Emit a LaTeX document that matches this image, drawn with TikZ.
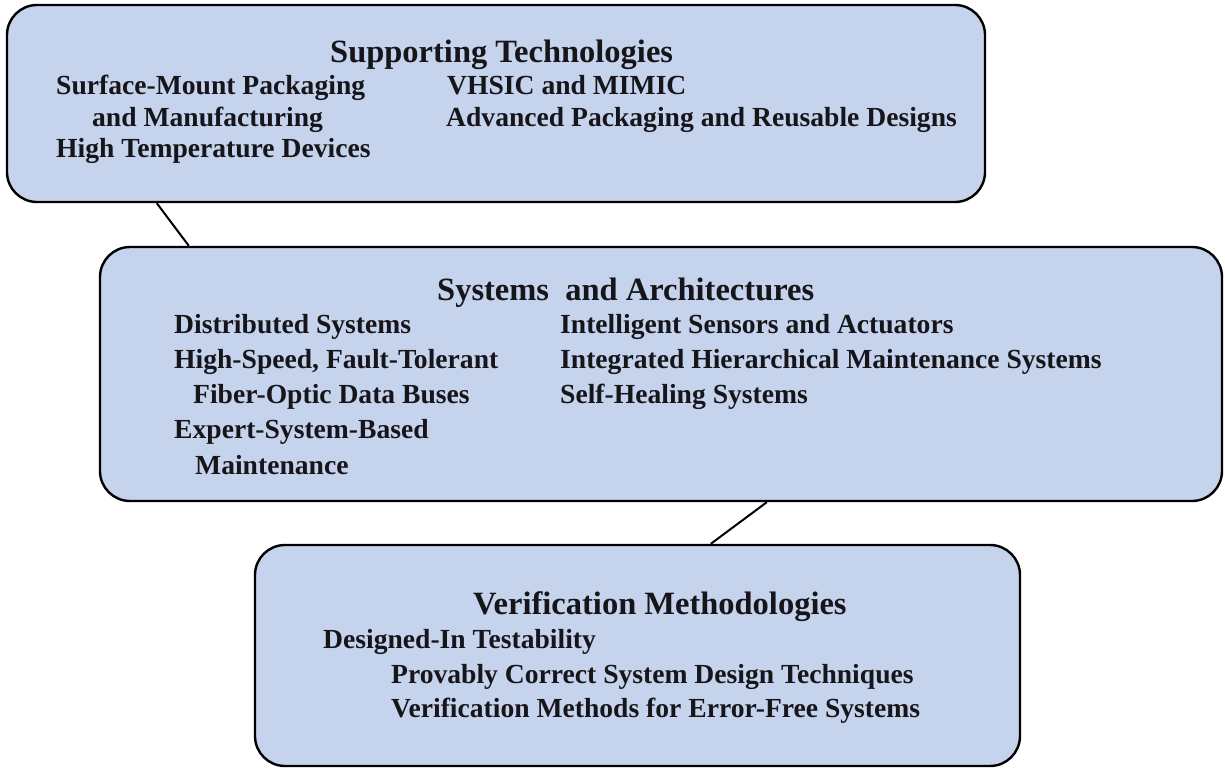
\documentclass[tikz,border=0pt]{standalone}
\usepackage{fontspec}
\setmainfont{Liberation Serif}
\usetikzlibrary{calc}
\definecolor{boxfill}{RGB}{198,211,236}
\definecolor{ink}{RGB}{22,22,26}
\begin{document}
\begin{tikzpicture}[x=1bp,y=-1bp,
  panel/.style={draw=black, line width=2.4bp, fill=boxfill, rounded corners=30bp,
    inner sep=0pt, rectangle},
  ttl/.style={anchor=base west, inner sep=0pt, text=ink,
    font=\bfseries\fontsize{32.5bp}{36bp}\selectfont},
  itm/.style={anchor=base west, inner sep=0pt, text=ink,
    font=\bfseries\fontsize{27.6bp}{32bp}\selectfont},
  link/.style={draw=black, line width=2bp}]
\useasboundingbox (0,0) rectangle (1225,770);
% panels
\node[panel, minimum width=978bp, minimum height=197bp] (sup) at (496,103.5) {};
\node[panel, minimum width=1122bp, minimum height=254bp] (sys) at (661,374) {};
\node[panel, minimum width=765bp, minimum height=221bp] (ver) at (637.5,655.5) {};
% connectors
\coordinate (c1a) at ($(sup.south west)+(151bp,0)$);
\coordinate (c1b) at ($(sys.north west)+(90bp,0)$);
\coordinate (c2a) at ($(sys.south west)+(668bp,0)$);
\coordinate (c2b) at ($(ver.north west)+(457bp,0)$);
\draw[link] (c1a) -- (c1b);
\draw[link] (c2a) -- (c2b);
% Supporting Technologies
\node[ttl] (t1) at (330,63) {Supporting Technologies};
\node[itm] (s1) at (56,95) {Surface-Mount Packaging};
\node[itm] (s2) at (92,126) {and Manufacturing};
\node[itm] (s3) at (56,157) {High Temperature Devices};
\node[itm] (s4) at (447,95) {VHSIC and MIMIC};
\node[itm] (s5) at (446,126) {Advanced Packaging and Reusable Designs};
% Systems and Architectures
\node[ttl] (t2) at (437,300) {Systems\ \ and Architectures};
\node[itm] (a1) at (174,333) {Distributed Systems};
\node[itm] (a2) at (174,368) {High-Speed, Fault-Tolerant};
\node[itm] (a3) at (193,403) {Fiber-Optic Data Buses};
\node[itm] (a4) at (174,438) {Expert-System-Based};
\node[itm] (a5) at (195,474) {Maintenance};
\node[itm] (a6) at (560,333) {Intelligent Sensors and Actuators};
\node[itm] (a7) at (560,368) {Integrated Hierarchical Maintenance Systems};
\node[itm] (a8) at (560,403) {Self-Healing Systems};
% Verification Methodologies
\node[ttl] (t3) at (473,614) {Verification Methodologies};
\node[itm] (v1) at (323,648) {Designed-In Testability};
\node[itm] (v2) at (391,683) {Provably Correct System Design Techniques};
\node[itm] (v3) at (391,717) {Verification Methods for Error-Free Systems};
\end{tikzpicture}
\end{document}
